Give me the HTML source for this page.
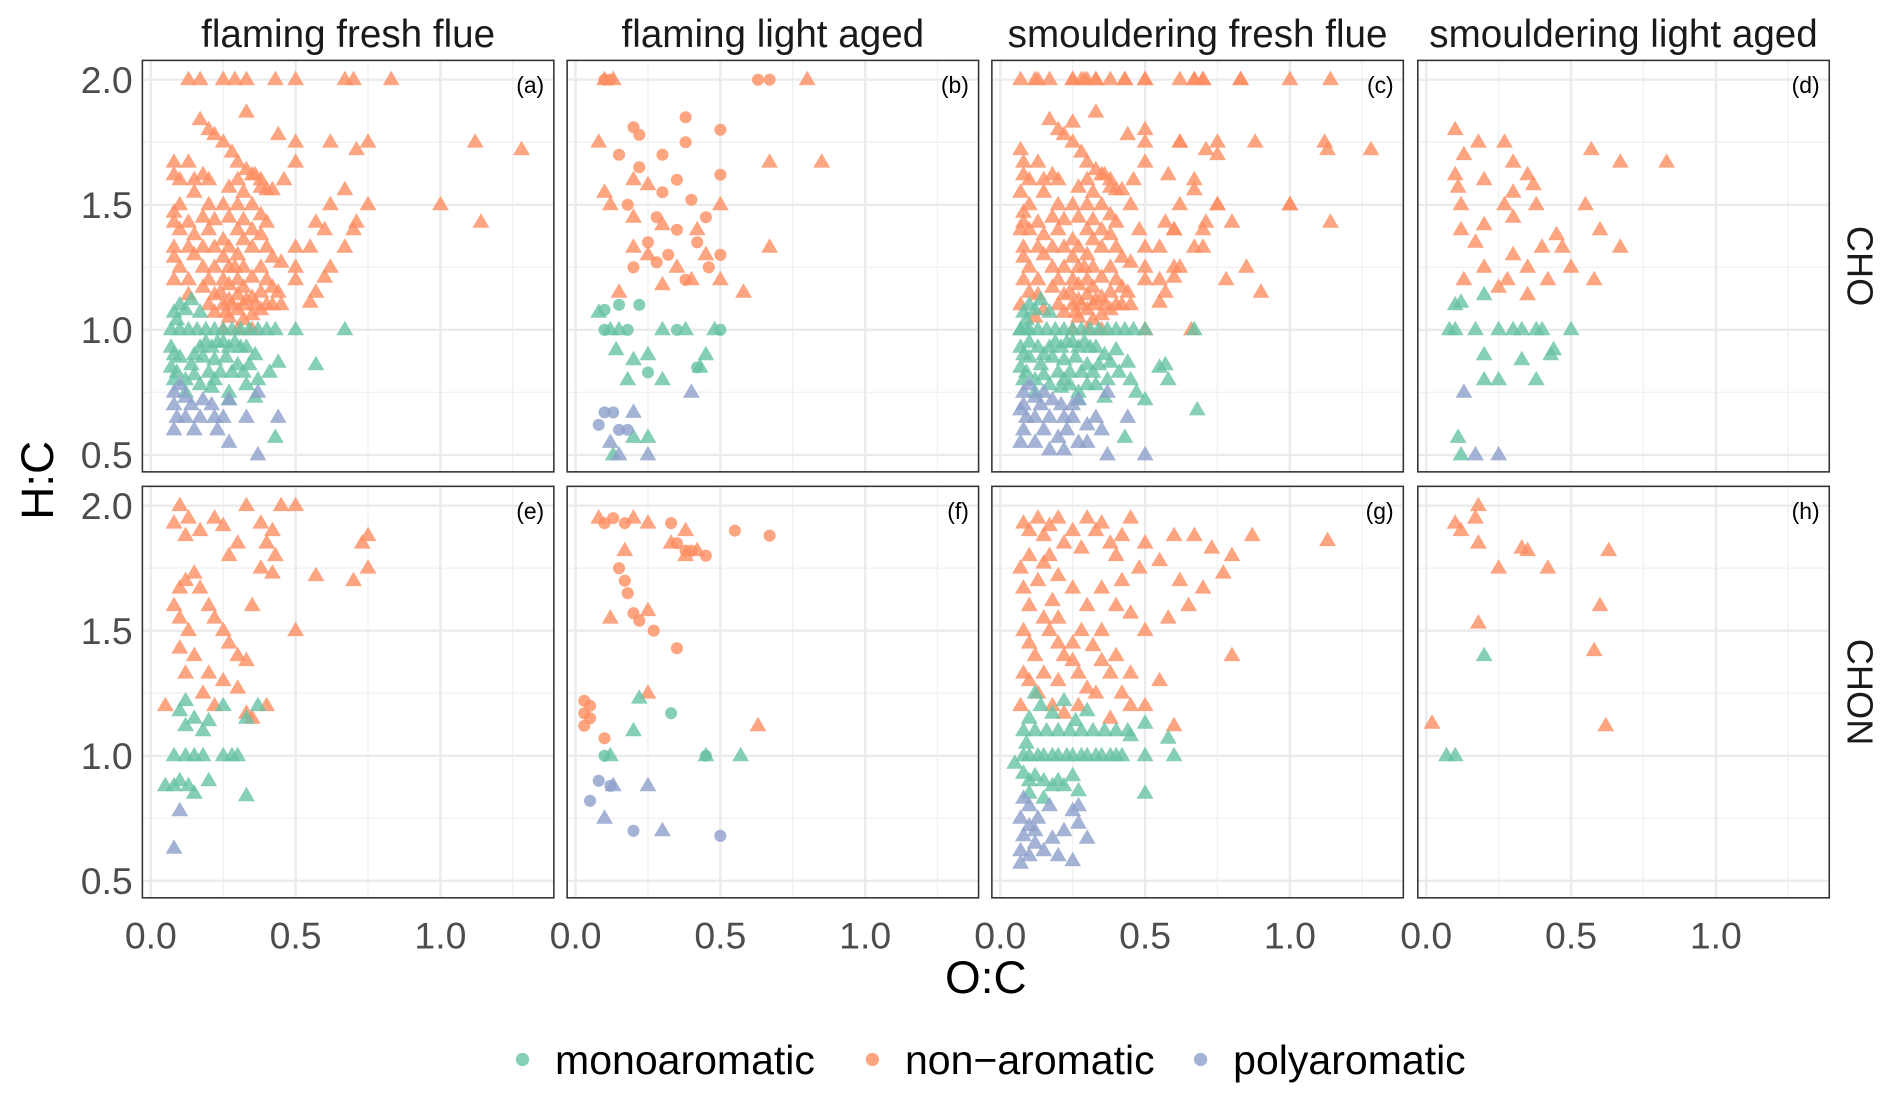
<!DOCTYPE html>
<html><head><meta charset="utf-8"><style>
html,body{margin:0;padding:0;background:#fff;}
svg{display:block;font-family:"Liberation Sans",Arial,sans-serif;}
</style></head><body>
<svg id="chart" width="1892" height="1103" viewBox="0 0 1568 914" xmlns="http://www.w3.org/2000/svg"></svg>
<script>
const panelTitles = ["flaming fresh flue","flaming light aged","smouldering fresh flue","smouldering light aged"];
const rowLabels = ["CHO","CHON"];
const panelTags = ["(a)","(b)","(c)","(d)","(e)","(f)","(g)","(h)"];
const xTicks = [0,0.5,1.0];
const xTickLabels = ["0.0","0.5","1.0"];
const yTicks = [0.5,1.0,1.5,2.0];
const yTickLabels = ["0.5","1.0","1.5","2.0"];
const classes = ["monoaromatic","non-aromatic","polyaromatic"];

// panel a
const aNon = [[0.13,2],[0.17,2],[0.25,2],[0.29,2],[0.33,2],[0.43,2],[0.5,2],[0.67,2],[0.7,2],[0.83,2],[0.33,1.87],[0.17,1.84],[0.2,1.8],[0.22,1.78],[0.25,1.75],[0.28,1.71],[0.3,1.67],[0.33,1.64],[0.36,1.62],[0.38,1.6],[0.4,1.56],[0.44,1.78],[0.5,1.75],[0.62,1.75],[0.75,1.75],[0.71,1.72],[1.12,1.75],[1.28,1.72],[0.5,1.67],[0.46,1.6],[0.67,1.56],[0.62,1.5],[0.75,1.5],[1.0,1.5],[1.14,1.43],[0.57,1.43],[0.6,1.4],[0.71,1.43],[0.7,1.4],[0.67,1.33],[0.55,1.33],[0.5,1.33],[0.62,1.25],[0.6,1.21],[0.57,1.15],[0.55,1.11],[0.45,1.27],[0.5,1.25],[0.5,1.2],[0.44,1.15],[0.45,1.1],
[0.08,1.67],[0.08,1.62],[0.08,1.47],[0.08,1.43],[0.08,1.33],[0.08,1.29],[0.08,1.2],[0.1,1.6],[0.1,1.5],[0.1,1.4],[0.1,1.25],[0.13,1.67],[0.13,1.43],[0.13,1.33],[0.13,1.2],[0.13,1.14],[0.15,1.6],[0.15,1.55],[0.15,1.38],[0.15,1.3],[0.18,1.62],[0.18,1.45],[0.18,1.33],[0.18,1.25],[0.18,1.17],[0.2,1.6],[0.2,1.5],[0.2,1.4],[0.2,1.2],[0.2,1.1],[0.22,1.44],[0.22,1.33],[0.22,1.25],[0.22,1.14],[0.22,1.07],[0.25,1.5],[0.25,1.36],[0.25,1.29],[0.25,1.2],[0.25,1.1],[0.25,1.0],[0.27,1.57],[0.27,1.45],[0.27,1.33],[0.27,1.25],[0.27,1.18],[0.27,1.12],[0.27,1.05],[0.3,1.6],[0.3,1.5],[0.3,1.4],[0.3,1.3],[0.3,1.2],[0.3,1.14],[0.3,1.08],[0.3,1.0],[0.32,1.55],[0.32,1.44],[0.32,1.36],[0.32,1.25],[0.32,1.17],[0.32,1.1],[0.32,1.04],[0.35,1.62],[0.35,1.5],[0.35,1.4],[0.35,1.33],[0.35,1.21],[0.35,1.13],[0.35,1.06],[0.35,1.0],[0.38,1.57],[0.38,1.46],[0.38,1.38],[0.38,1.25],[0.38,1.15],[0.38,1.08],[0.4,1.43],[0.4,1.33],[0.4,1.2],[0.4,1.1],[0.42,1.56],[0.42,1.29],[0.42,1.17],[0.42,1.1],[0.24,1.15],[0.28,1.1],[0.33,1.12],[0.26,1.07],[0.36,1.1],[0.29,1.25]];
const aMono = [[0.07,1],[0.1,1],[0.13,1],[0.16,1],[0.19,1],[0.22,1],[0.25,1],[0.28,1],[0.31,1],[0.34,1],[0.37,1],[0.4,1],[0.43,1],[0.5,1],[0.67,1],[0.08,1.07],[0.1,1.1],[0.12,1.08],[0.14,1.12],[0.09,1.04],[0.17,1.07],[0.07,0.93],[0.08,0.9],[0.1,0.89],[0.07,0.85],[0.09,0.83],[0.08,0.8],[0.12,0.8],[0.14,0.86],[0.15,0.9],[0.17,0.93],[0.19,0.95],[0.21,0.93],[0.23,0.95],[0.25,0.95],[0.27,0.93],[0.29,0.95],[0.31,0.93],[0.33,0.93],[0.36,0.9],[0.18,0.89],[0.22,0.88],[0.26,0.89],[0.3,0.86],[0.34,0.86],[0.15,0.82],[0.2,0.83],[0.24,0.83],[0.28,0.83],[0.32,0.83],[0.17,0.78],[0.21,0.77],[0.27,0.75],[0.33,0.78],[0.22,0.8],[0.12,0.75],[0.44,0.87],[0.41,0.83],[0.57,0.86],[0.37,0.8],[0.36,0.73],[0.43,0.57],[0.27,0.72]];
const aPoly = [[0.1,0.78],[0.08,0.75],[0.12,0.73],[0.08,0.7],[0.14,0.7],[0.18,0.72],[0.21,0.7],[0.27,0.72],[0.37,0.75],[0.09,0.65],[0.12,0.65],[0.17,0.65],[0.22,0.65],[0.25,0.65],[0.33,0.65],[0.44,0.65],[0.08,0.6],[0.15,0.6],[0.23,0.6],[0.27,0.55],[0.37,0.5]];
// panel b
const bNonCircle = [[0.1,2],[0.12,2],[0.63,2],[0.67,2],[0.2,1.81],[0.22,1.78],[0.38,1.85],[0.5,1.8],[0.15,1.7],[0.22,1.65],[0.3,1.7],[0.38,1.75],[0.5,1.62],[0.3,1.55],[0.35,1.6],[0.4,1.52],[0.18,1.5],[0.28,1.45],[0.35,1.4],[0.45,1.45],[0.25,1.35],[0.32,1.3],[0.42,1.35],[0.5,1.3],[0.28,1.27],[0.38,1.2],[0.2,1.25],[0.46,1.25]];
const bNonTri = [[0.1,2],[0.13,2],[0.8,2],[0.08,1.75],[0.85,1.67],[0.67,1.67],[0.2,1.6],[0.25,1.58],[0.1,1.55],[0.12,1.5],[0.2,1.45],[0.3,1.42],[0.42,1.4],[0.67,1.33],[0.5,1.5],[0.45,1.3],[0.2,1.33],[0.25,1.3],[0.35,1.25],[0.58,1.15],[0.4,1.2],[0.15,1.15],[0.3,1.18],[0.5,1.2]];
const bMonoCircle = [[0.1,1.08],[0.15,1.1],[0.22,1.1],[0.1,1],[0.18,1],[0.35,1],[0.5,1],[0.25,0.83],[0.42,0.85]];
const bMonoTri = [[0.08,1.07],[0.12,1],[0.15,1],[0.3,1],[0.38,1],[0.48,1],[0.14,0.92],[0.2,0.88],[0.25,0.9],[0.45,0.9],[0.43,0.85],[0.18,0.8],[0.3,0.8],[0.2,0.57],[0.25,0.57],[0.13,0.5]];
const bPolyCircle = [[0.1,0.67],[0.13,0.67],[0.08,0.62],[0.15,0.6],[0.18,0.6]];
const bPolyTri = [[0.2,0.67],[0.25,0.5],[0.4,0.75],[0.12,0.55],[0.15,0.5]];
// panel c
const cNonExtra = [[0.07,2],[0.12,2],[0.25,2],[0.28,2],[0.3,2],[0.33,2],[0.38,2],[0.43,2],[0.5,2],[0.62,2],[0.67,2],[0.7,2],[0.83,2],[1.0,2],[1.14,2],[0.25,1.83],[1.13,1.72],[0.88,1.75],[0.75,1.7],[0.62,1.75],[0.5,1.8],[0.58,1.62],[0.67,1.6],[0.75,1.5],[1.0,1.5],[0.8,1.43],[0.6,1.4],[0.7,1.33],[0.85,1.25],[0.78,1.2],[0.6,1.25],[0.55,1.2],[0.9,1.15],[0.66,1.0],[0.5,1.0],[0.07,1.72],[0.07,1.55],[0.07,1.4],[0.07,1.1],[0.1,1.15],[0.15,1.08],[0.12,1.05],[0.45,1.5],[0.48,1.4]];
const cMonoExtra = [[0.07,1],[0.09,1],[0.46,1],[0.58,0.8],[0.55,0.85],[0.68,0.68],[0.5,0.72],[0.47,0.75],[0.1,0.95],[0.13,0.93],[0.38,0.87],[0.4,0.92],[0.45,0.8],[0.24,0.78],[0.3,0.78]];
const cPolyExtra = [[0.07,0.55],[0.12,0.55],[0.17,0.52],[0.22,0.52],[0.3,0.55],[0.5,0.5],[0.35,0.6],[0.2,0.57],[0.07,0.68],[0.15,0.75],[0.25,0.7],[0.3,0.62]];
// panel d
const dNon = [[0.1,1.8],[0.13,1.7],[0.18,1.75],[0.27,1.75],[0.3,1.67],[0.35,1.62],[0.37,1.58],[0.2,1.6],[0.3,1.55],[0.27,1.5],[0.2,1.42],[0.3,1.45],[0.12,1.4],[0.17,1.35],[0.38,1.5],[0.4,1.33],[0.47,1.33],[0.45,1.38],[0.57,1.72],[0.67,1.67],[0.83,1.67],[0.55,1.5],[0.6,1.4],[0.67,1.33],[0.5,1.25],[0.58,1.2],[0.3,1.3],[0.2,1.25],[0.28,1.2],[0.35,1.25],[0.42,1.2],[0.13,1.2],[0.25,1.17],[0.35,1.14],[0.1,1.62],[0.11,1.57],[0.12,1.5]];
const dMono = [[0.1,1.1],[0.12,1.11],[0.2,1.14],[0.1,1],[0.17,1],[0.25,1],[0.3,1],[0.33,1],[0.38,1],[0.4,1],[0.5,1],[0.08,1],[0.2,0.9],[0.33,0.88],[0.43,0.9],[0.44,0.92],[0.2,0.8],[0.25,0.8],[0.38,0.8],[0.11,0.57],[0.12,0.5]];
const dPoly = [[0.13,0.75],[0.17,0.5],[0.25,0.5]];
// panel e
const eNon = [[0.1,2],[0.13,1.95],[0.17,1.9],[0.22,1.95],[0.25,1.92],[0.12,1.88],[0.08,1.93],[0.33,2],[0.45,2],[0.5,2],[0.38,1.93],[0.42,1.9],[0.4,1.85],[0.43,1.8],[0.38,1.75],[0.42,1.73],[0.3,1.85],[0.27,1.8],[0.75,1.88],[0.73,1.85],[0.57,1.72],[0.7,1.7],[0.75,1.75],[0.1,1.67],[0.12,1.7],[0.15,1.73],[0.17,1.67],[0.2,1.6],[0.22,1.55],[0.25,1.5],[0.27,1.45],[0.08,1.6],[0.1,1.55],[0.13,1.5],[0.3,1.4],[0.33,1.38],[0.35,1.6],[0.5,1.5],[0.1,1.43],[0.15,1.4],[0.2,1.33],[0.25,1.3],[0.3,1.27],[0.05,1.2],[0.12,1.33],[0.18,1.25],[0.33,1.17],[0.35,1.15],[0.4,1.2],[0.22,1.2]];
const eMono = [[0.12,1.22],[0.1,1.18],[0.15,1.15],[0.2,1.14],[0.25,1.2],[0.12,1.12],[0.18,1.1],[0.08,1],[0.12,1],[0.15,1],[0.18,1],[0.25,1],[0.28,1],[0.3,1],[0.05,0.88],[0.1,0.9],[0.08,0.88],[0.13,0.88],[0.15,0.85],[0.2,0.9],[0.33,0.84],[0.37,1.2],[0.33,1.15]];
const ePoly = [[0.1,0.78],[0.08,0.63]];
// panel f
const fNonCircle = [[0.1,1.93],[0.13,1.95],[0.17,1.93],[0.33,1.93],[0.35,1.85],[0.38,1.82],[0.4,1.82],[0.45,1.8],[0.55,1.9],[0.67,1.88],[0.15,1.75],[0.17,1.7],[0.18,1.65],[0.2,1.57],[0.22,1.54],[0.27,1.5],[0.35,1.43],[0.03,1.22],[0.05,1.2],[0.03,1.17],[0.05,1.15],[0.03,1.12],[0.1,1.07]];
const fNonTri = [[0.08,1.95],[0.2,1.95],[0.25,1.93],[0.38,1.9],[0.33,1.85],[0.42,1.82],[0.17,1.82],[0.12,1.55],[0.25,1.58],[0.25,1.25],[0.63,1.12],[0.38,1.8]];
const fMonoCircle = [[0.33,1.17],[0.1,1],[0.45,1]];
const fMonoTri = [[0.22,1.23],[0.2,1.1],[0.12,1],[0.45,1],[0.57,1]];
const fPolyCircle = [[0.08,0.9],[0.05,0.82],[0.2,0.7],[0.5,0.68],[0.12,0.88]];
const fPolyTri = [[0.13,0.88],[0.25,0.88],[0.1,0.75],[0.3,0.7]];
// panel g
const gNon = [[0.08,1.93],[0.1,1.9],[0.13,1.95],[0.15,1.88],[0.17,1.92],[0.2,1.95],[0.22,1.85],[0.25,1.9],[0.28,1.83],[0.3,1.95],[0.33,1.9],[0.35,1.93],[0.38,1.85],[0.4,1.8],[0.42,1.88],[0.45,1.95],[0.48,1.75],[0.5,1.85],[0.6,1.88],[0.67,1.88],[0.73,1.83],[0.8,1.8],[0.87,1.88],[1.13,1.86],[0.55,1.78],[0.62,1.7],[0.7,1.67],[0.77,1.73],[0.65,1.6],[0.58,1.55],[0.5,1.5],[0.8,1.4],[0.6,1.12],[0.5,1.2],[0.55,1.3],[0.45,1.33],[0.4,1.4],[0.35,1.5],[0.3,1.6],[0.25,1.67],[0.2,1.72],[0.15,1.77],[0.1,1.8],[0.07,1.75],[0.08,1.67],[0.1,1.6],[0.08,1.5],[0.1,1.45],[0.12,1.4],[0.08,1.33],[0.1,1.3],[0.13,1.25],[0.07,1.2],[0.15,1.55],[0.17,1.5],[0.18,1.62],[0.2,1.45],[0.22,1.4],[0.15,1.33],[0.2,1.3],[0.25,1.38],[0.27,1.33],[0.3,1.27],[0.33,1.25],[0.28,1.5],[0.25,1.45],[0.32,1.44],[0.35,1.38],[0.38,1.33],[0.42,1.25],[0.45,1.2],[0.35,1.67],[0.4,1.6],[0.42,1.7],[0.45,1.57],[0.27,1.2],[0.22,1.17],[0.18,1.2],[0.38,1.15],[0.2,1.55],[0.13,1.7],[0.17,1.8]];
const gMono = [[0.08,1],[0.1,1],[0.13,1],[0.15,1],[0.18,1],[0.2,1],[0.23,1],[0.25,1],[0.28,1],[0.3,1],[0.33,1],[0.35,1],[0.38,1],[0.4,1],[0.42,1],[0.5,1],[0.08,1.1],[0.12,1.1],[0.16,1.1],[0.2,1.1],[0.24,1.1],[0.28,1.1],[0.32,1.1],[0.36,1.1],[0.4,1.1],[0.44,1.1],[0.1,1.15],[0.14,1.2],[0.18,1.17],[0.22,1.22],[0.26,1.14],[0.3,1.18],[0.12,1.25],[0.09,1.05],[0.05,0.97],[0.08,0.93],[0.1,0.9],[0.12,0.92],[0.15,0.9],[0.18,0.88],[0.2,0.9],[0.22,0.88],[0.25,0.92],[0.1,0.85],[0.15,0.83],[0.5,0.85],[0.6,1],[0.5,1.13],[0.58,1.07],[0.45,1.08],[0.27,0.86]];
const gPoly = [[0.08,0.83],[0.1,0.8],[0.07,0.75],[0.1,0.72],[0.08,0.68],[0.12,0.65],[0.07,0.62],[0.1,0.6],[0.07,0.57],[0.15,0.62],[0.2,0.6],[0.25,0.58],[0.18,0.67],[0.22,0.7],[0.27,0.73],[0.3,0.67],[0.13,0.75],[0.17,0.8],[0.25,0.78],[0.27,0.8],[0.12,0.7]];
// panel h
const hNon = [[0.1,1.93],[0.18,2],[0.17,1.95],[0.12,1.9],[0.18,1.85],[0.25,1.75],[0.33,1.83],[0.35,1.82],[0.42,1.75],[0.63,1.82],[0.6,1.6],[0.18,1.53],[0.58,1.42],[0.62,1.12],[0.02,1.13]];
const hMono = [[0.2,1.4],[0.07,1],[0.1,1]];

const colors = {"monoaromatic":"#66c2a5","non-aromatic":"#fc8d62","polyaromatic":"#8da0cb"};
const panels = [
 {series:[["non-aromatic","tri",aNon],["monoaromatic","tri",aMono],["polyaromatic","tri",aPoly]]},
 {series:[["non-aromatic","circle",bNonCircle],["non-aromatic","tri",bNonTri],["monoaromatic","circle",bMonoCircle],["monoaromatic","tri",bMonoTri],["polyaromatic","circle",bPolyCircle],["polyaromatic","tri",bPolyTri]]},
 {series:[["non-aromatic","tri",aNon.concat(cNonExtra)],["monoaromatic","tri",aMono.concat(cMonoExtra)],["polyaromatic","tri",aPoly.concat(cPolyExtra)]]},
 {series:[["non-aromatic","tri",dNon],["monoaromatic","tri",dMono],["polyaromatic","tri",dPoly]]},
 {series:[["non-aromatic","tri",eNon],["monoaromatic","tri",eMono],["polyaromatic","tri",ePoly]]},
 {series:[["non-aromatic","circle",fNonCircle],["non-aromatic","tri",fNonTri],["monoaromatic","circle",fMonoCircle],["monoaromatic","tri",fMonoTri],["polyaromatic","circle",fPolyCircle],["polyaromatic","tri",fPolyTri]]},
 {series:[["non-aromatic","tri",gNon],["monoaromatic","tri",gMono],["polyaromatic","tri",gPoly]]},
 {series:[["non-aromatic","tri",hNon],["monoaromatic","tri",hMono]]}
];

const NS="http://www.w3.org/2000/svg";
const svg=document.getElementById('chart');
function mk(tag,attrs,parent){const e=document.createElementNS(NS,tag);for(const k in attrs)e.setAttribute(k,attrs[k]);(parent||svg).appendChild(e);return e;}
const colX=[118,470,822,1175], rowY=[50,403], PW=341, PH=341;
const XPU=240, YTOP=2.0, YPU=207.3, YOFF=16;
function sx(c,v){return colX[c]+7+v*XPU;}
function sy(r,v){return rowY[r]+YOFF+(YTOP-v)*YPU;}

panelTitles.forEach((t,i)=>{
  const e=mk('text',{x:colX[i]+PW/2,y:39,'text-anchor':'middle','font-size':32,fill:'#1a1a1a'});
  e.textContent=t;
  
  
});
rowLabels.forEach((t,r)=>{
  const cy=rowY[r]+PH/2;
  const e=mk('text',{x:1531,y:cy,'text-anchor':'middle','font-size':30,fill:'#1a1a1a',transform:`rotate(90 1531 ${cy})`});
  e.textContent=t;
  
  
});

panels.forEach((p,i)=>{
  const c=i%4, r=Math.floor(i/4);
  const g=mk('g',{});
  
  
  [0.25,0.75,1.25].forEach(v=>mk('line',{x1:sx(c,v),x2:sx(c,v),y1:rowY[r],y2:rowY[r]+PH,stroke:'#f2f2f2','stroke-width':1.2},g));
  [0.75,1.25,1.75].forEach(v=>mk('line',{x1:colX[c],x2:colX[c]+PW,y1:sy(r,v),y2:sy(r,v),stroke:'#f2f2f2','stroke-width':1.2},g));
  xTicks.forEach(v=>mk('line',{x1:sx(c,v),x2:sx(c,v),y1:rowY[r],y2:rowY[r]+PH,stroke:'#ebebeb','stroke-width':2},g));
  yTicks.forEach(v=>mk('line',{x1:colX[c],x2:colX[c]+PW,y1:sy(r,v),y2:sy(r,v),stroke:'#ebebeb','stroke-width':2},g));
  p.series.forEach(([cls,shape,pts])=>{
    pts.forEach(([x,y])=>{
      const X=sx(c,x),Y=sy(r,y);
      let m;
      if(shape==='tri') m=mk('polygon',{points:`${X},${Y-7.5} ${X-7},${Y+4.5} ${X+7},${Y+4.5}`,fill:colors[cls],'fill-opacity':0.8},g);
      else m=mk('circle',{cx:X,cy:Y,r:5,fill:colors[cls],'fill-opacity':0.8},g);
      
      
    });
  });
  const tag=mk('text',{x:colX[c]+PW-8,y:rowY[r]+27,'text-anchor':'end','font-size':19,fill:'#000'},g);
  tag.textContent=panelTags[i];
  
  
  const b=mk('rect',{x:colX[c],y:rowY[r],width:PW,height:PH,fill:'none',stroke:'#333','stroke-width':1.3},g);
  
  
});

[0,1].forEach(r=>yTicks.forEach((v,k)=>{
  const e=mk('text',{x:110,y:sy(r,v)+11,'text-anchor':'end','font-size':31,fill:'#4d4d4d'});
  e.textContent=yTickLabels[k];
  
  
}));
[0,1,2,3].forEach(c=>xTicks.forEach((v,k)=>{
  const e=mk('text',{x:sx(c,v),y:786,'text-anchor':'middle','font-size':31,fill:'#4d4d4d'});
  e.textContent=xTickLabels[k];
  
  
}));
const yt=mk('text',{x:44,y:398,'text-anchor':'middle','font-size':38,fill:'#000',transform:'rotate(-90 44 398)'});
yt.textContent='H:C';


const xt=mk('text',{x:817,y:823,'text-anchor':'middle','font-size':38,fill:'#000'});
xt.textContent='O:C';



const legX=[433,723,995], legText=["monoaromatic","non\u2212aromatic","polyaromatic"];
classes.forEach((cls,k)=>{
  const g=mk('g',{});
  
  
  mk('circle',{cx:legX[k],cy:878,r:5.5,fill:colors[cls],'fill-opacity':0.8},g);
  const t=mk('text',{x:legX[k]+27,y:890,'font-size':34,fill:'#000'},g);
  t.textContent=legText[k];
});
</script>
</body></html>
